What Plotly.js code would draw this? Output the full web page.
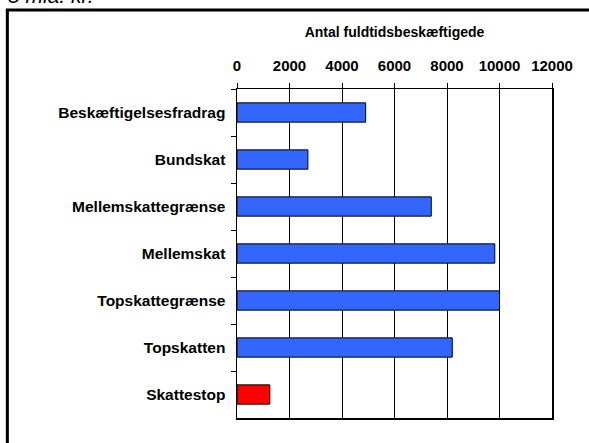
<!DOCTYPE html>
<html>
<head>
<meta charset="utf-8">
<script src="https://cdn.plot.ly/plotly-3.0.1.min.js"></script>
<style>html,body{margin:0;padding:0;background:#fff;}#chart{width:589px;height:443px;}</style>
</head>
<body>
<div id="chart"></div>
<script>
var categories = ["Beskæftigelsesfradrag", "Bundskat", "Mellemskattegrænse", "Mellemskat", "Topskattegrænse", "Topskatten", "Skattestop"];
var values = [4900, 2700, 7400, 9820, 10000, 8200, 1250];
var barColors = ["#3366FF", "#3366FF", "#3366FF", "#3366FF", "#3366FF", "#3366FF", "#FF0000"];
var tickValues = [0, 2000, 4000, 6000, 8000, 10000, 12000];
var axisTitle = "Antal fuldtidsbeskæftigede";
var chartTitle = "5 mia. kr.";

var L = 237, R = 552.5, T = 89, B = 418;
var W = 589, H = 443;
function px2x(p){ return (p - L) / (R - L); }
function py2y(p){ return (B - p) / (B - T); }

var trace = {
  type: "bar",
  orientation: "h",
  y: categories,
  x: values,
  marker: {color: barColors, line: {color: "#000", width: 1}},
  width: 0.41,
  hoverinfo: "x+y"
};

var layout = {
  width: W, height: H,
  margin: {l: L, r: W - R, t: T, b: H - B, pad: 0},
  paper_bgcolor: "#fff", plot_bgcolor: "#fff",
  showlegend: false,
  font: {family: "Liberation Sans, Arial, sans-serif", color: "#000"},
  xaxis: {
    side: "top",
    range: [0, 12000],
    tickvals: tickValues,
    ticktext: tickValues.map(String),
    tickfont: {size: 15, weight: "bold"},
    ticks: "outside", ticklen: 5, tickcolor: "#000", tickwidth: 1,
    showgrid: true, gridcolor: "#000", gridwidth: 1,
    showline: true, linecolor: "#000", linewidth: 1.5, mirror: true,
    zeroline: false,
    ticklabelstandoff: 6,
    title: {text: "<b>" + axisTitle + "</b>", font: {size: 14}, standoff: 15},
    fixedrange: true
  },
  yaxis: {
    type: "category",
    autorange: "reversed",
    tickson: "boundaries",
    ticks: "outside", ticklen: 5, tickcolor: "#000", tickwidth: 1,
    tickfont: {size: 15.5, weight: "bold"},
    showline: true, linecolor: "#000", linewidth: 1.5, mirror: true,
    showgrid: false, zeroline: false,
    ticklabelstandoff: 7,
    fixedrange: true
  },
  shapes: [
    {type: "line", xref: "paper", yref: "paper", x0: px2x(7), x1: px2x(7), y0: py2y(9), y1: py2y(460), line: {color: "#000", width: 3}},
    {type: "line", xref: "paper", yref: "paper", x0: px2x(5.5), x1: px2x(600), y0: py2y(10), y1: py2y(10), line: {color: "#000", width: 3}}
  ],
  annotations: [
    {text: "<i>" + chartTitle + "</i>", xref: "paper", yref: "paper", x: px2x(6), y: py2y(9), xanchor: "left", yanchor: "bottom", showarrow: false, font: {size: 21}}
  ]
};

Plotly.newPlot("chart", [trace], layout, {displayModeBar: false, staticPlot: true});
</script>
</body>
</html>
